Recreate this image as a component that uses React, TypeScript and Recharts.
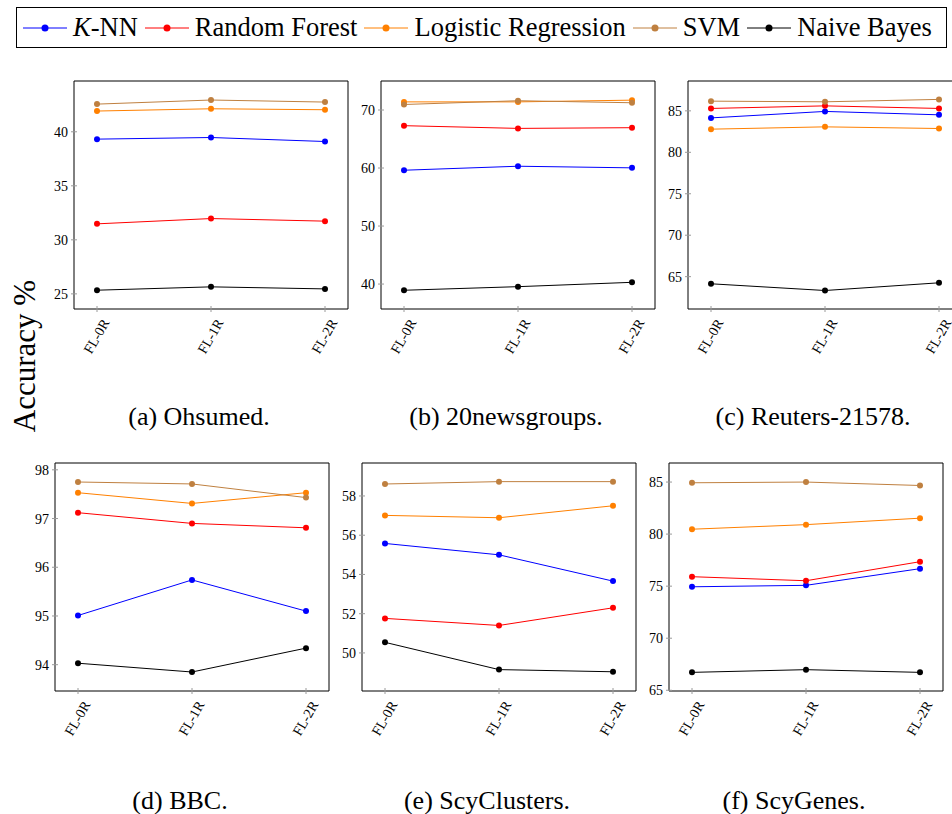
import React from 'react';
import { Line, LineChart, XAxis, YAxis } from 'recharts';

const STEPS = ['FL-0R', 'FL-1R', 'FL-2R'];

// values, one array per classifier and dataset
const ohsumedKnn = [39.32, 39.47, 39.1];
const ohsumedRf = [31.48, 31.97, 31.73];
const ohsumedLr = [41.92, 42.13, 42.04];
const ohsumedSvm = [42.56, 42.94, 42.75];
const ohsumedNb = [25.34, 25.65, 25.46];

const newsKnn = [59.62, 60.31, 60.03];
const newsRf = [67.3, 66.83, 66.95];
const newsLr = [71.4, 71.4, 71.7];
const newsSvm = [70.95, 71.6, 71.25];
const newsNb = [38.93, 39.55, 40.3];

const reutersKnn = [84.15, 84.93, 84.52];
const reutersRf = [85.29, 85.6, 85.29];
const reutersLr = [82.79, 83.07, 82.87];
const reutersSvm = [86.17, 86.09, 86.38];
const reutersNb = [64.14, 63.33, 64.26];

const bbcKnn = [95.01, 95.74, 95.1];
const bbcRf = [97.12, 96.9, 96.81];
const bbcLr = [97.53, 97.31, 97.53];
const bbcSvm = [97.75, 97.71, 97.43];
const bbcNb = [94.03, 93.85, 94.34];

const clustersKnn = [55.58, 55.0, 53.66];
const clustersRf = [51.76, 51.4, 52.3];
const clustersLr = [57.01, 56.89, 57.5];
const clustersSvm = [58.61, 58.73, 58.73];
const clustersNb = [50.54, 49.15, 49.04];

const genesKnn = [74.94, 75.08, 76.68];
const genesRf = [75.91, 75.52, 77.35];
const genesLr = [80.47, 80.91, 81.53];
const genesSvm = [84.93, 85.0, 84.67];
const genesNb = [66.72, 66.98, 66.72];

const SERIES = [
  { key: 'knn', color: '#0000ff' },
  { key: 'rf', color: '#ff0000' },
  { key: 'lr', color: '#ff8000' },
  { key: 'svm', color: '#bf8040' },
  { key: 'nb', color: '#000000' },
];

const FONT = '"Liberation Serif", "Times New Roman", Times, "DejaVu Serif", serif';
const TICK = '#9a9a9a';
const FRAME_W = 274;
const FRAME_H = 228;
const AXIS_W = 50;
const TOP = 11;
const X_AXIS_H = 60;

function rows(knn: number[], rf: number[], lr: number[], svm: number[], nb: number[]) {
  return STEPS.map((step, i) => ({ step, knn: knn[i], rf: rf[i], lr: lr[i], svm: svm[i], nb: nb[i] }));
}

const PANELS = [
  { x0: 74, y0: 81, caption: '(a) Ohsumed.', domain: [23.6, 44.7], ticks: [25, 30, 35, 40],
    data: rows(ohsumedKnn, ohsumedRf, ohsumedLr, ohsumedSvm, ohsumedNb) },
  { x0: 381, y0: 81, caption: '(b) 20newsgroups.', domain: [35.7, 75], ticks: [40, 50, 60, 70],
    data: rows(newsKnn, newsRf, newsLr, newsSvm, newsNb) },
  { x0: 688, y0: 81, caption: '(c) Reuters-21578.', domain: [61.1, 88.6], ticks: [65, 70, 75, 80, 85],
    data: rows(reutersKnn, reutersRf, reutersLr, reutersSvm, reutersNb) },
  { x0: 55, y0: 463, caption: '(d) BBC.', domain: [93.46, 98.14], ticks: [94, 95, 96, 97, 98],
    data: rows(bbcKnn, bbcRf, bbcLr, bbcSvm, bbcNb) },
  { x0: 362, y0: 463, caption: '(e) ScyClusters.', domain: [48.06, 59.68], ticks: [50, 52, 54, 56, 58],
    data: rows(clustersKnn, clustersRf, clustersLr, clustersSvm, clustersNb) },
  { x0: 669, y0: 463, caption: '(f) ScyGenes.', domain: [64.93, 86.83], ticks: [65, 70, 75, 80, 85],
    data: rows(genesKnn, genesRf, genesLr, genesSvm, genesNb) },
];

const LEGEND = [
  { label: <><i>K</i>-NN</>, color: '#0000ff' },
  { label: 'Random Forest', color: '#ff0000' },
  { label: 'Logistic Regression', color: '#ff8000' },
  { label: 'SVM', color: '#bf8040' },
  { label: 'Naive Bayes', color: '#000000' },
];

function StepTick(props: any) {
  const { x, y, payload } = props;
  const ax = x + 13;
  const ay = y + 7.5;
  return (
    <text x={ax} y={ay} textAnchor="end" transform={`rotate(-60 ${ax} ${ay})`}
      fontFamily={FONT} fontSize={14} fill="#000">
      {payload.value}
    </text>
  );
}

function Panel({ x0, y0, data, domain, ticks }: any) {
  const width = AXIS_W + FRAME_W + 11;
  const height = TOP + FRAME_H + X_AXIS_H;
  return (
    <div style={{ position: 'absolute', left: x0 - AXIS_W, top: y0 - TOP }}>
      <LineChart width={width} height={height} data={data} margin={{ top: 10, right: 10, left: 0, bottom: 0 }}>
        <XAxis dataKey="step" xAxisId="t" orientation="top" height={1} padding={{ left: 23, right: 23 }}
          tick={false} tickSize={6} tickLine={{ stroke: TICK, transform: 'translate(0 3)' }}
          axisLine={{ stroke: '#000' }} />
        <XAxis dataKey="step" height={X_AXIS_H} padding={{ left: 23, right: 23 }} interval={0}
          tickSize={6} tickMargin={0} tick={<StepTick />}
          tickLine={{ stroke: TICK, transform: 'translate(0 -3)' }} axisLine={{ stroke: '#000' }} />
        <YAxis type="number" domain={domain} ticks={ticks} width={AXIS_W} allowDataOverflow
          tickSize={6} tickMargin={0} tickLine={{ stroke: TICK, transform: 'translate(3 0)' }}
          tick={{ fontFamily: FONT, fontSize: 14, fill: '#000' }} axisLine={{ stroke: '#000' }} />
        <YAxis yAxisId="r" orientation="right" type="number" domain={domain} ticks={ticks} width={1}
          tick={false} tickSize={6} tickLine={{ stroke: TICK, transform: 'translate(-3 0)' }}
          axisLine={{ stroke: '#000' }} />
        {SERIES.map((s) => (
          <Line key={s.key} dataKey={s.key} stroke={s.color} strokeWidth={1}
            dot={{ r: 3, fill: s.color, stroke: s.color, strokeWidth: 0 }}
            activeDot={false} isAnimationActive={false} />
        ))}
      </LineChart>
    </div>
  );
}

export default function App() {
  return (
    <div style={{ position: 'absolute', left: 0, top: 0, width: 952, height: 814, overflow: 'hidden', background: '#fff', fontFamily: FONT }}>
      <div style={{ position: 'absolute', left: 16, top: 7, width: 931, height: 41, boxSizing: 'border-box',
        border: '1px solid #000', display: 'flex', alignItems: 'center', paddingLeft: 6, fontSize: 26.5, color: '#000' }}>
        {LEGEND.map((item, i) => (
          <div key={i} style={{ display: 'flex', alignItems: 'center', marginRight: 7 }}>
            <svg width={44} height={20} style={{ marginRight: 6 }}>
              <line x1={0} y1={10} x2={44} y2={10} stroke={item.color} strokeWidth={1} />
              <circle cx={22} cy={10} r={3.5} fill={item.color} />
            </svg>
            <span style={{ whiteSpace: 'nowrap' }}>{item.label}</span>
          </div>
        ))}
      </div>
      {PANELS.map((p) => <Panel key={p.caption} {...p} />)}
      <svg width={952} height={814} style={{ position: 'absolute', left: 0, top: 0, pointerEvents: 'none' }}>
        <text x={35} y={356} textAnchor="middle" transform="rotate(-90 35 356)" fontFamily={FONT} fontSize={31}>
          Accuracy %
        </text>
        {/* subfigure captions sit a little left of the plot centre, as in the source */}
        {PANELS.map((p) => (
          <text key={p.caption} x={p.x0 + FRAME_W / 2 - 12} y={p.y0 < 200 ? 425 : 809} textAnchor="middle"
            fontFamily={FONT} fontSize={26}>
            {p.caption}
          </text>
        ))}
      </svg>
    </div>
  );
}
